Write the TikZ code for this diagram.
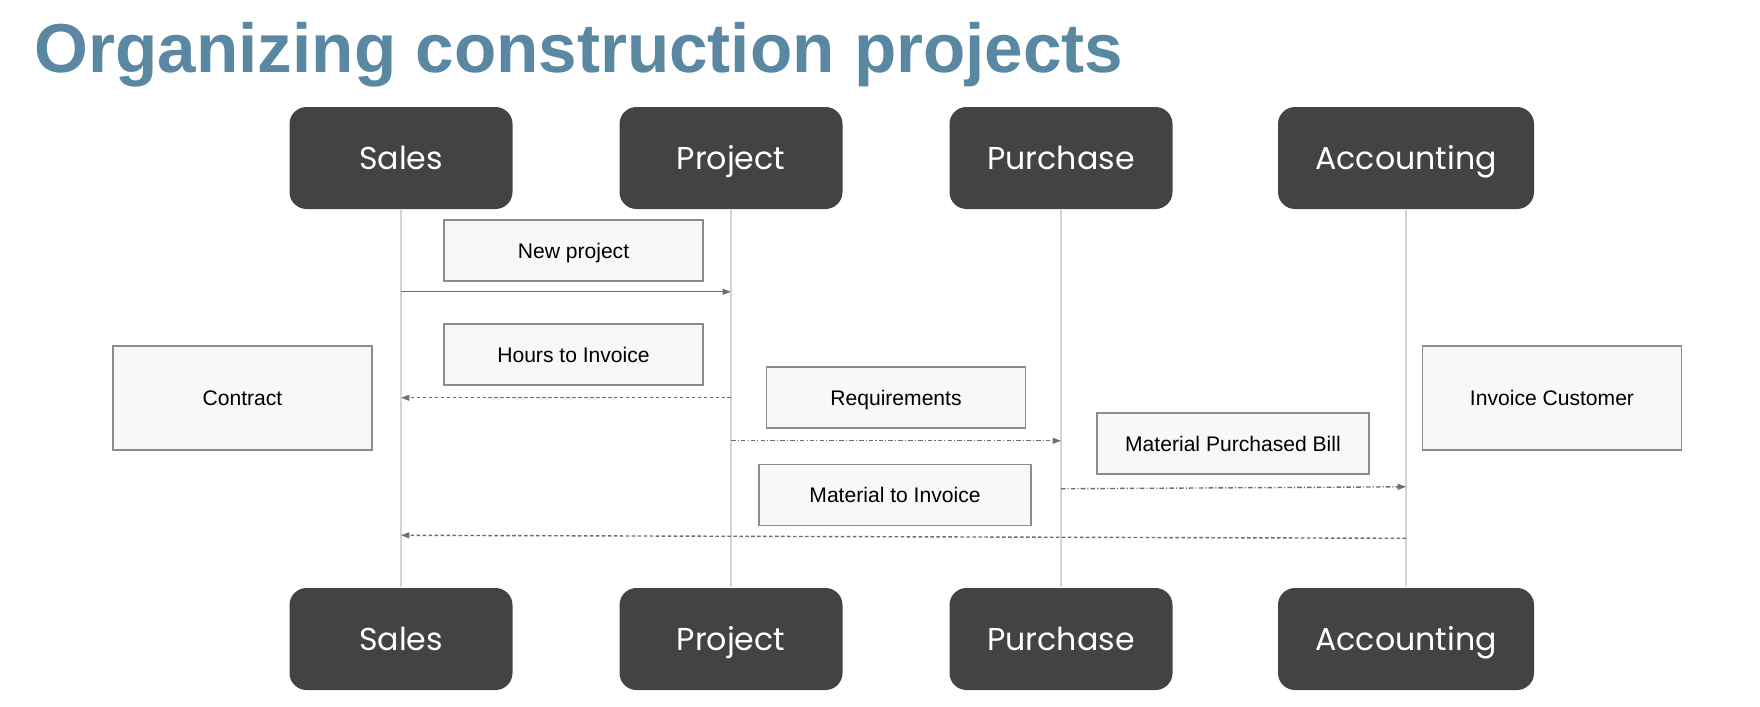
\documentclass[tikz,border=0pt]{standalone}
\usepackage{fontspec}
\setmainfont{Liberation Sans}
\newfontfamily\lanefont{Poppins}
\usetikzlibrary{arrows.meta, positioning, backgrounds}
\definecolor{titleblue}{HTML}{5A87A1}
\definecolor{lanedark} {HTML}{434343}
\definecolor{lifegray} {HTML}{D4D4D4}
\definecolor{msgfill}  {HTML}{F8F8F8}
\definecolor{msgdraw}  {HTML}{8C8C8C}
\definecolor{arrowgray}{HTML}{6E6E6E}

\begin{document}
\begin{tikzpicture}[
    lane/.style={
        fill=lanedark, draw=none, rounded corners=0.17cm,
        minimum width=2.23cm, minimum height=1.02cm,
        font=\lanefont\fontsize{9}{11}\selectfont, text=white,
        text height=6.4pt, text depth=0pt, inner sep=0pt
    },
    msg/.style={
        fill=msgfill, draw=msgdraw, line width=0.45pt,
        minimum width=2.59cm, minimum height=0.61cm,
        font=\fontsize{6}{7.5}\selectfont, text=black,
        text height=4.3pt, text depth=0pt, inner sep=0pt
    },
    note/.style={msg, minimum height=1.04cm},
    lifeline/.style={draw=lifegray, line width=0.4pt},
    call/.style={-{Triangle[length=2.4pt, width=1.7pt]}, draw=arrowgray, line width=0.4pt},
    reply/.style={call, dash pattern=on 1pt off 0.7pt},
    flow/.style={call, dash pattern=on 1.3pt off 0.6pt on 0.3pt off 0.6pt}
]

% ── CANVAS ─────────────────────────────────────────────────────
\useasboundingbox (0,0) rectangle (17.6,-7.07);
\begin{scope}[on background layer]
    \fill[white] (0,0) rectangle (17.6,-7.07);
\end{scope}

% ── TITLE ──────────────────────────────────────────────────────
\node[anchor=base west, inner sep=0pt, text=titleblue,
      font=\bfseries\fontsize{19.7}{24}\selectfont]
    (title) at (0.34,-0.72) {Organizing construction projects};

% === LANES (TOP) ===
\node[lane] (salesTop) at (4.01,-1.58)  {Sales};
\node[lane] (projTop)  at (7.31,-1.58)  {Project};
\node[lane] (purchTop) at (10.61,-1.58) {Purchase};
\node[lane, minimum width=2.56cm] (accTop) at (14.06,-1.58) {Accounting};

% === LANES (BOTTOM) ===
\node[lane] (salesBot) at (4.01,-6.39)  {Sales};
\node[lane] (projBot)  at (7.31,-6.39)  {Project};
\node[lane] (purchBot) at (10.61,-6.39) {Purchase};
\node[lane, minimum width=2.56cm] (accBot) at (14.06,-6.39) {Accounting};

% ── LIFELINES ──────────────────────────────────────────────────
\begin{scope}[on background layer]
    \draw[lifeline] (salesTop) -- (salesBot);
    \draw[lifeline] (projTop)  -- (projBot);
    \draw[lifeline] (purchTop) -- (purchBot);
    \draw[lifeline] (accTop)   -- (accBot);
\end{scope}

% === MESSAGES ===
\node[msg] (newproj) at (5.735,-2.505) {New project};
\node[msg] (hours)   at (5.735,-3.545) {Hours to Invoice};
\node[msg] (req)     at (8.96,-3.975)  {Requirements};
\node[msg, minimum width=2.72cm] (mpbill) at (12.33,-4.435) {Material Purchased Bill};
\node[msg, minimum width=2.72cm] (matinv) at (8.95,-4.95)   {Material to Invoice};

% === NOTES ===
\node[note] (contract) at (2.425,-3.98) {Contract};
\node[note] (invcust)  at (15.52,-3.98) {Invoice Customer};

% ── ARROWS ─────────────────────────────────────────────────────

% Sales → Project
\draw[call] ([yshift=-0.1cm]newproj.south -| salesTop)
    -- ([yshift=-0.1cm]newproj.south -| projTop);

% Project → Sales
\draw[reply] ([yshift=-0.12cm]hours.south -| projTop)
    -- ([yshift=-0.12cm]hours.south -| salesTop);

% Project → Purchase
\draw[flow] ([yshift=-0.12cm]req.south -| projTop)
    -- ([yshift=-0.12cm]req.south -| purchTop);

% Purchase → Accounting
\draw[flow] ([yshift=-0.14cm]mpbill.south -| purchTop)
    -- ([yshift=-0.12cm]mpbill.south -| accTop);

% Accounting → Sales
\draw[reply] ([yshift=-0.12cm]matinv.south -| accTop)
    -- ([yshift=-0.09cm]matinv.south -| salesTop);

\end{tikzpicture}
\end{document}
